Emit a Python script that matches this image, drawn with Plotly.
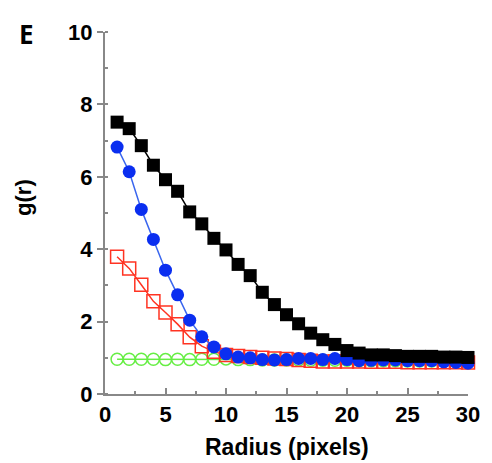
import plotly.graph_objects as go

radius = list(range(1, 31))

black_sq = [7.51, 7.33, 6.86, 6.32, 5.92, 5.60, 5.03, 4.70, 4.30, 3.98,
            3.58, 3.27, 2.81, 2.47, 2.19, 1.94, 1.68, 1.50, 1.37, 1.20,
            1.13, 1.08, 1.08, 1.06, 1.04, 1.04, 1.04, 1.02, 1.02, 1.01]
blue_ci = [6.82, 6.14, 5.10, 4.27, 3.42, 2.74, 2.04, 1.58, 1.30, 1.11,
           1.02, 1.00, 0.95, 0.94, 0.95, 0.98, 0.98, 0.95, 0.98, 0.95,
           0.92, 0.93, 0.94, 0.94, 0.92, 0.92, 0.92, 0.89, 0.87, 0.85]
red_sq = [3.79, 3.47, 3.02, 2.56, 2.25, 1.93, 1.57, 1.32, 1.17, 1.08,
          1.05, 1.02, 1.00, 0.98, 0.97, 0.94, 0.92, 0.90, 0.90, 0.90,
          0.90, 0.89, 0.89, 0.89, 0.88, 0.88, 0.88, 0.88, 0.88, 0.87]
green_ci = [0.96, 0.96, 0.96, 0.96, 0.95, 0.96, 0.95, 0.96, 0.96, 0.97,
            0.95, 0.95, 0.94, 0.94, 0.94, 0.94, 0.93, 0.93, 0.93, 0.93,
            0.92, 0.92, 0.92, 0.92, 0.91, 0.91, 0.91, 0.91, 0.90, 0.90]

x_ticks = [0, 5, 10, 15, 20, 25, 30]
y_ticks = [0, 2, 4, 6, 8, 10]

FONT = "Arial, Liberation Sans, sans-serif"

fig = go.Figure()

fig.add_trace(go.Scatter(
    x=radius, y=green_ci, mode="lines+markers",
    line=dict(color="#66ee44", width=1.5),
    marker=dict(symbol="circle-open", size=12, color="#66ee44", line=dict(width=1.5)),
    cliponaxis=False, showlegend=False))
fig.add_trace(go.Scatter(
    x=radius, y=red_sq, mode="lines+markers",
    line=dict(color="#ff3322", width=1.5),
    marker=dict(symbol="square-open", size=13, color="#ff3322", line=dict(width=1.5)),
    cliponaxis=False, showlegend=False))
fig.add_trace(go.Scatter(
    x=radius, y=blue_ci, mode="lines+markers",
    line=dict(color="#3a66ee", width=1.5),
    marker=dict(symbol="circle", size=13, color="#0a2ef0"),
    cliponaxis=False, showlegend=False))
fig.add_trace(go.Scatter(
    x=radius, y=black_sq, mode="lines+markers",
    line=dict(color="#000000", width=1.5),
    marker=dict(symbol="square", size=13, color="#000000"),
    cliponaxis=False, showlegend=False))

fig.update_layout(
    width=484, height=455,
    margin=dict(l=97, r=15, t=16, b=69),
    plot_bgcolor="white", paper_bgcolor="white",
    font=dict(family=FONT, color="black"),
    xaxis=dict(
        range=[0, 30], tickvals=x_ticks, ticktext=[str(v) for v in x_ticks],
        showgrid=False, zeroline=False, showline=True,
        linecolor="#888888", linewidth=2,
        ticks="inside", ticklen=6, tickwidth=1.5, tickcolor="#888888",
        minor=dict(ticks="inside", ticklen=3, tickwidth=1.5, tickcolor="#888888", dtick=2.5, tick0=0),
        tickfont=dict(size=22, family=FONT, weight="bold", color="black"),
    ),
    yaxis=dict(
        range=[0, 10], tickvals=y_ticks, ticktext=[str(v) for v in y_ticks],
        showgrid=False, zeroline=False, showline=True,
        linecolor="#888888", linewidth=2,
        ticks="outside", ticklen=6, tickwidth=1.5, tickcolor="#888888",
        minor=dict(ticks="inside", ticklen=3, tickwidth=1.5, tickcolor="#888888", dtick=1, tick0=0),
        tickfont=dict(size=22, family=FONT, weight="bold", color="black"),
    ),
    annotations=[
        dict(text="<b>E</b>", xref="paper", yref="paper", x=0, y=1,
             xanchor="center", yanchor="middle", xshift=-79, yshift=-2,
             showarrow=False, font=dict(size=26, family="Open Sans, sans-serif", color="black")),
        dict(text="<b>g(r)</b>", xref="paper", yref="paper", x=0, y=(394 - 212) / 370,
             xanchor="center", yanchor="middle", xshift=-81, yshift=18, textangle=-90,
             showarrow=False, font=dict(size=22, family=FONT, color="black")),
        dict(text="<b>Radius (pixels)</b>", xref="paper", yref="paper", x=(291 - 105) / 372, y=0,
             xanchor="center", yanchor="middle", yshift=-53,
             showarrow=False, font=dict(size=23, family=FONT, color="black")),
    ],
)

fig.write_html("out.html")
